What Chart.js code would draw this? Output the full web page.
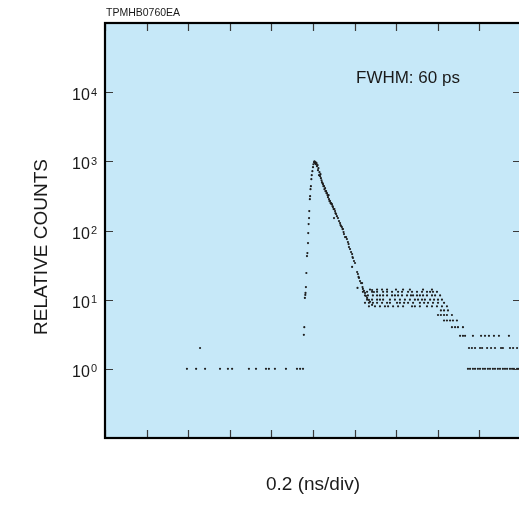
<!DOCTYPE html>
<html><head><meta charset="utf-8">
<script src="https://cdn.jsdelivr.net/npm/chart.js@4.4.0/dist/chart.umd.min.js"></script>
<style>html,body{margin:0;padding:0;background:#fff;overflow:hidden;width:519px;height:520px}canvas{display:block}</style>
</head><body>
<canvas id="c" width="545" height="520" style="width:545px;height:520px"></canvas>
<script>
// ---- texts ----
const figureCode = "TPMHB0760EA";
const annotationText = "FWHM: 60 ps";
const yTitle = "RELATIVE COUNTS";
const xTitle = "0.2 (ns/div)";

// ---- axes ----
const xTicks = [0, 0.2, 0.4, 0.6, 0.8, 1.0, 1.2, 1.4, 1.6, 1.8, 2.0];
const yTickPowers = [0, 1, 2, 3, 4];

// ---- data: time (ns) and relative counts ----
const baseTime = [0.394, 0.438, 0.457, 0.481, 0.553, 0.591, 0.611, 0.692, 0.726, 0.774, 0.788, 0.817, 0.870, 0.923, 0.938, 0.952];
const baseCounts = [1, 1, 2, 1, 1, 1, 1, 1, 1, 1, 1, 1, 1, 1, 1, 1];

const riseTime = [0.956, 0.958, 0.961, 0.963, 0.964, 0.966, 0.968, 0.971, 0.973, 0.976, 0.977, 0.979, 0.981, 0.982, 0.985, 0.986, 0.988, 0.990, 0.992, 0.994, 0.997, 1.000, 1.002, 1.005, 1.007];
const riseCounts = [3.1, 4.0, 10.6, 11.7, 12.5, 15.2, 24.3, 42.7, 47.2, 65.8, 91.7, 124, 151, 191, 284, 314, 396, 437, 552, 630, 720, 822, 908, 971, 1003];

const decayTime = [1.010, 1.012, 1.014, 1.017, 1.019, 1.022, 1.024, 1.026, 1.029, 1.031, 1.034, 1.036, 1.038, 1.041, 1.043, 1.046, 1.048, 1.050, 1.053, 1.055, 1.058, 1.060, 1.063, 1.065, 1.067, 1.070, 1.072, 1.075, 1.077, 1.079, 1.082, 1.084, 1.087, 1.089, 1.091, 1.094, 1.096, 1.099, 1.101, 1.103, 1.106, 1.108, 1.111, 1.115, 1.120, 1.125, 1.130, 1.132, 1.135, 1.139, 1.142, 1.144, 1.147, 1.149, 1.154, 1.159, 1.163, 1.168, 1.171, 1.173, 1.178, 1.183, 1.188, 1.190, 1.188, 1.192, 1.197, 1.202, 1.212, 1.214, 1.216, 1.219, 1.221, 1.226, 1.231, 1.236, 1.238, 1.240, 1.245, 1.250, 1.255, 1.260, 1.269, 1.274, 1.284, 1.284, 1.293];
const decayCounts = [939, 971, 908, 939, 850, 879, 744, 795, 630, 697, 610, 652, 570, 533, 499, 483, 467, 437, 437, 396, 409, 370, 370, 347, 347, 324, 303, 324, 284, 266, 266, 249, 249, 240, 240, 225, 218, 204, 151, 204, 191, 178, 173, 161, 151, 137, 128, 120, 116, 112, 105, 105, 94.8, 88.7, 80.3, 80.3, 75.2, 68.0, 63.6, 57.5, 53.9, 48.8, 45.6, 41.3, 29.7, 40.0, 36.2, 33.9, 25.1, 14.8, 23.5, 21.3, 20.6, 18.6, 17.4, 17.4, 15.2, 14.3, 13.4, 12.5, 11.3, 10.6, 9.9, 9.3, 8.4, 13.8, 12.9];

const plateauTime = [
  1.274, 1.308, 1.332, 1.356, 1.399, 1.433, 1.466, 1.529, 1.572,
  1.240, 1.260, 1.284, 1.308, 1.337, 1.356, 1.380, 1.409, 1.428, 1.457, 1.476, 1.500, 1.524, 1.548, 1.563, 1.577, 1.596,
  1.250, 1.264, 1.288, 1.308, 1.322, 1.337, 1.356, 1.380, 1.394, 1.409, 1.428, 1.452, 1.471, 1.481, 1.500, 1.514, 1.529, 1.548, 1.572, 1.587, 1.611,
  1.260, 1.284, 1.308, 1.322, 1.337, 1.370, 1.394, 1.418, 1.442, 1.466, 1.490, 1.505, 1.524, 1.538, 1.563, 1.582, 1.601, 1.620,
  1.250, 1.269, 1.288, 1.308, 1.332, 1.356, 1.370, 1.404, 1.418, 1.438, 1.457, 1.481, 1.514, 1.534, 1.553, 1.577, 1.601, 1.630,
  1.269, 1.298, 1.322, 1.346, 1.361, 1.385, 1.409, 1.433, 1.476, 1.490, 1.514, 1.548, 1.572, 1.596, 1.620, 1.644
];
const plateauCounts = [
  14, 14, 14, 14, 14, 14, 14, 14, 14,
  13, 13, 13, 13, 13, 13, 13, 13, 13, 13, 13, 13, 13, 13, 13, 13, 13,
  11.5, 11.5, 11.5, 11.5, 11.5, 11.5, 11.5, 11.5, 11.5, 11.5, 11.5, 11.5, 11.5, 11.5, 11.5, 11.5, 11.5, 11.5, 11.5, 11.5, 11.5,
  10, 10, 10, 10, 10, 10, 10, 10, 10, 10, 10, 10, 10, 10, 10, 10, 10, 10,
  9, 9, 9, 9, 9, 9, 9, 9, 9, 9, 9, 9, 9, 9, 9, 9, 9, 9,
  8, 8, 8, 8, 8, 8, 8, 8, 8, 8, 8, 8, 8, 8, 8, 8
];

const tailTime = [
  1.615, 1.630, 1.649,
  1.601, 1.615, 1.630, 1.644, 1.668,
  1.630, 1.644, 1.659, 1.673, 1.692,
  1.668, 1.683, 1.697, 1.721,
  1.707, 1.721, 1.731, 1.769, 1.808, 1.827, 1.846, 1.870, 1.894, 1.942,
  1.750, 1.764, 1.779, 1.803, 1.813, 1.837, 1.856, 1.875, 1.904, 1.913, 1.947, 1.962, 1.981,
  1.745, 1.755, 1.769, 1.779, 1.793, 1.803, 1.817, 1.827, 1.841, 1.851, 1.865, 1.875, 1.889, 1.899, 1.913, 1.923, 1.933, 1.947, 1.957, 1.966, 1.981, 1.990, 2.000
];
const tailCounts = [
  7, 7, 7,
  6, 6, 6, 6, 6,
  5, 5, 5, 5, 5,
  4, 4, 4, 4,
  3, 3, 3, 3, 3, 3, 3, 3, 3, 3,
  2, 2, 2, 2, 2, 2, 2, 2, 2, 2, 2, 2, 2,
  1, 1, 1, 1, 1, 1, 1, 1, 1, 1, 1, 1, 1, 1, 1, 1, 1, 1, 1, 1, 1, 1, 1
];

function pairs(xs, ys) { return xs.map((x, i) => ({ x: x, y: ys[i] })); }
const points = [].concat(
  pairs(baseTime, baseCounts),
  pairs(riseTime, riseCounts),
  pairs(decayTime, decayCounts),
  pairs(plateauTime, plateauCounts),
  pairs(tailTime, tailCounts)
);

const FONT = '"Liberation Sans", Arial, Helvetica, sans-serif';
const decor = {
  id: 'decor',
  beforeDatasetsDraw(chart) {
    const { ctx, chartArea: a } = chart;
    ctx.save();
    ctx.fillStyle = '#c6e8f8';
    ctx.fillRect(a.left, a.top, a.right - a.left, a.bottom - a.top);
    ctx.restore();
  },
  afterDatasetsDraw(chart) {
    const { ctx, chartArea: a } = chart;
    const xs = chart.scales.x, ys = chart.scales.y;
    ctx.save();
    // inward ticks
    ctx.strokeStyle = '#3a3a3a';
    ctx.lineWidth = 1.2;
    const L = 8;
    ctx.beginPath();
    xTicks.forEach(v => {
      const px = Math.round(xs.getPixelForValue(v)) + 0.5;
      ctx.moveTo(px, a.top); ctx.lineTo(px, a.top + L);
      ctx.moveTo(px, a.bottom); ctx.lineTo(px, a.bottom - L);
    });
    yTickPowers.forEach(p => {
      const py = Math.round(ys.getPixelForValue(Math.pow(10, p))) + 0.5;
      ctx.moveTo(a.left, py); ctx.lineTo(a.left + L, py);
      ctx.moveTo(a.right, py); ctx.lineTo(a.right - L, py);
    });
    ctx.stroke();
    // frame
    ctx.strokeStyle = '#000';
    ctx.lineWidth = 2.2;
    ctx.strokeRect(a.left, a.top, a.right - a.left, a.bottom - a.top);
    // y tick labels 10^n
    ctx.fillStyle = '#1a1a1a';
    ctx.textBaseline = 'alphabetic';
    yTickPowers.forEach(p => {
      const py = ys.getPixelForValue(Math.pow(10, p));
      const expStr = String(p);
      ctx.font = '11px ' + FONT;
      ctx.textAlign = 'right';
      const ew = ctx.measureText(expStr).width;
      const rightX = a.left - 8;
      ctx.fillText(expStr, rightX, py + 3.5);
      ctx.font = '16px ' + FONT;
      ctx.fillText('10', rightX - ew - 1, py + 8);
    });
    // figure code
    ctx.textAlign = 'left';
    ctx.font = '10.5px ' + FONT;
    ctx.fillText(figureCode, a.left + 1, 16);
    // annotation
    ctx.font = '17px ' + FONT;
    ctx.fillText(annotationText, 356, 83);
    // x title
    ctx.textAlign = 'center';
    ctx.font = '19px ' + FONT;
    ctx.fillText(xTitle, (a.left + a.right) / 2, 490);
    // y title
    ctx.translate(47, 247);
    ctx.rotate(-Math.PI / 2);
    ctx.fillText(yTitle, 0, 0);
    ctx.restore();
  }
};

new Chart(document.getElementById('c'), {
  type: 'scatter',
  data: { datasets: [{ data: points, pointRadius: 1.1, pointHoverRadius: 0, pointBackgroundColor: '#1e1e1e', pointBorderWidth: 0, showLine: false }] },
  options: {
    responsive: false, animation: false, events: [], devicePixelRatio: 1,
    layout: { padding: { left: 105, top: 23, right: 24, bottom: 82 } },
    plugins: { legend: { display: false }, tooltip: { enabled: false } },
    scales: {
      x: { type: 'linear', min: 0, max: 2.0, display: false },
      y: { type: 'logarithmic', min: 0.1, max: 100000, display: false }
    }
  },
  plugins: [decor]
});
</script>
</body></html>
